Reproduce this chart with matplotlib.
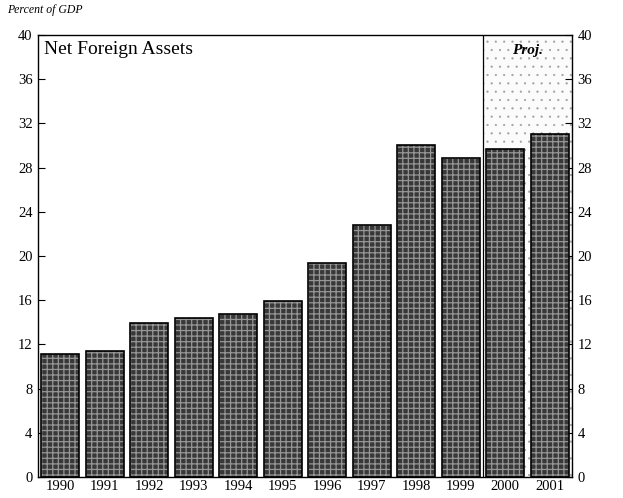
import matplotlib
matplotlib.use("Agg")
import matplotlib.pyplot as plt
import numpy as np

plt.rcParams["font.family"] = ["Liberation Serif", "DejaVu Serif"]

years = ["1990", "1991", "1992", "1993", "1994", "1995",
         "1996", "1997", "1998", "1999", "2000", "2001"]
net_foreign_assets = [11.1, 11.4, 13.9, 14.4, 14.75, 15.9,
                      19.4, 22.8, 30.0, 28.9, 29.7, 31.0]
first_proj = "2000"
yticks = list(range(0, 41, 4))

fig = plt.figure(figsize=(6.23, 4.98), dpi=100)
ax = fig.add_axes([0.061, 0.042, 0.857, 0.888])

x = np.arange(len(years))
p0 = years.index(first_proj)

# projection shading, fine speckle
plt.rcParams["hatch.linewidth"] = 0.35
ax.axvspan(p0 - 0.5, len(years) - 0.5, facecolor="#fbfbfb",
           edgecolor="#a0a0a0", hatch="..", linewidth=0, zorder=0)
ax.axvline(p0 - 0.5, color="black", lw=0.9, zorder=1)

# halftone-look bars: dark fill with grey hatch, then black outline
plt.rcParams["hatch.linewidth"] = 0.9
ax.bar(x, net_foreign_assets, width=0.85, color="#383838",
       edgecolor="#969696", hatch="+++", linewidth=0, zorder=2)
ax.bar(x, net_foreign_assets, width=0.85, fill=False,
       edgecolor="black", linewidth=1.2, zorder=3)

ax.set_xlim(-0.5, len(years) - 0.5)
ax.set_ylim(0, 40)
ax.set_xticks(x)
ax.set_xticklabels(years, fontsize=10.5)
ax.set_yticks(yticks)
ax.tick_params(axis="x", length=0, pad=2)
ax.tick_params(axis="y", direction="in", length=5, labelsize=10.5,
               left=True, right=True, labelleft=True, labelright=True, pad=4)
for s in ax.spines.values():
    s.set_linewidth(1.0)

ax.text(0.012, 0.985, "Net Foreign Assets", transform=ax.transAxes,
        ha="left", va="top", fontsize=14)
ax.text(p0 + 0.5, 39.2, "Proj.", ha="center", va="top",
        fontsize=11, fontweight="bold", style="italic")
fig.text(0.012, 0.967, "Percent of GDP", ha="left", va="bottom",
         fontsize=8.5, style="italic")

fig.savefig("out.png", dpi=100)
